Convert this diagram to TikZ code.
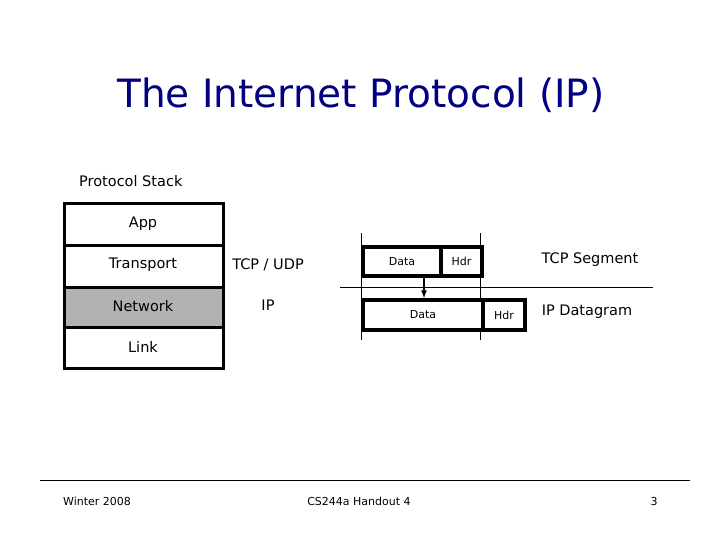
\documentclass[tikz,border=0pt]{standalone}
\usepackage{fontspec}
\setmainfont{DejaVu Sans}
\begin{document}
\begin{tikzpicture}[x=1pt,y=-1pt,
  txt/.style={inner sep=0pt,font=\fontsize{14.5}{16}\selectfont},
  small/.style={inner sep=0pt,font=\fontsize{11}{12}\selectfont},
  foot/.style={inner sep=0pt,font=\fontsize{11}{13}\selectfont},
  tbox/.style={draw,line width=4pt,fill=white,anchor=north west,inner sep=0pt},
  thinline/.style={draw,line width=1pt}]
\useasboundingbox (0,0) rectangle (720,540);
\node[inner sep=0pt,text=blue!50!black,font=\fontsize{39}{44}\selectfont] (title) at (361,95) {The Internet Protocol (IP)};
\node[txt,anchor=west] (ps) at (79,181) {Protocol Stack};
% stack
\fill[black!30] (64,287) rectangle (223,327);
\draw[line width=3pt] (64,204) rectangle (223,368);
\draw[line width=3pt] (64,245) -- (223,245) (64,287) -- (223,287) (64,327) -- (223,327);
\node[txt] (app) at (143,224) {App};
\node[txt] (tr) at (143,265) {Transport};
\node[txt] (nw) at (143,306) {Network};
\node[txt] (lk) at (143,347) {Link};
\node[txt] (tcpudp) at (268,265) {TCP / UDP};
\node[txt] (ip) at (268,305) {IP};
% guides
\coordinate (g1a) at (361,233); \coordinate (g1b) at (361,340);
\coordinate (g2a) at (480,233); \coordinate (g2b) at (480,340);
\coordinate (h1) at (340,287); \coordinate (h2) at (653,287);
\draw[thinline] (g1a) -- (g1b) (g2a) -- (g2b) (h1) -- (h2);
% TCP segment
\node[tbox,minimum width=78pt,minimum height=29pt,small] (d1) at (361,245) {Data};
\node[tbox,minimum width=41pt,minimum height=29pt,small] (h1b) at (439,245) {Hdr};
% IP datagram
\node[tbox,minimum width=120pt,minimum height=30pt,small] (d2) at (361,298) {Data};
\node[tbox,minimum width=42pt,minimum height=30pt,small] (h2b) at (481,298) {Hdr};
\draw[-latex,line width=1.6pt] (d1.south east) ++(-19pt,0) coordinate (as) -- (as |- d2.north);
\node[txt] (tcpseg) at (590,260) {TCP Segment};
\node[txt] (ipdg) at (587,312) {IP Datagram};
% footer
\coordinate (f1) at (40,480); \coordinate (f2) at (690,480);
\draw[line width=1pt] (f1) -- (f2);
\node[foot] (w) at (97,501) {Winter 2008};
\node[foot] (cs) at (359,501) {CS244a Handout 4};
\node[foot] (pg) at (654,501) {3};
\end{tikzpicture}
\end{document}
